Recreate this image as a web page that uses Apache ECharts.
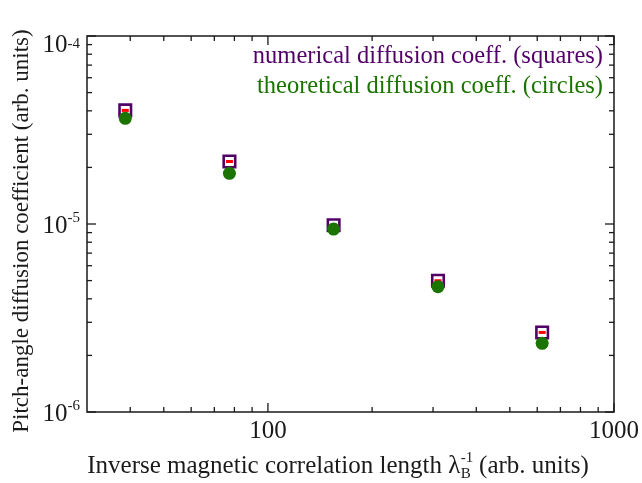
<!DOCTYPE html>
<html>
<head>
<meta charset="utf-8">
<script src="https://cdn.jsdelivr.net/npm/echarts@6/dist/echarts.min.js"></script>
<style>
  html, body { margin: 0; padding: 0; background: #fff; }
  #chart { width: 642px; height: 483px; }
</style>
</head>
<body>
<div id="chart"></div>
<script>
// Inverse magnetic correlation length (arb. units)
const inverseLength = [38.7, 77.4, 154.8, 310, 620];
// Pitch-angle diffusion coefficients (arb. units)
const numericalCoeff = [4.02e-5, 2.15e-5, 9.85e-6, 4.99e-6, 2.65e-6];
const theoreticalCoeff = [3.65e-5, 1.86e-5, 9.4e-6, 4.64e-6, 2.32e-6];

// Axis ranges and tick positions
const xRange = [30, 1000];
const yRange = [1e-6, 1e-4];
const xMajorTicks = [100, 1000];
const xMinorTicks = [40, 50, 60, 70, 80, 90, 200, 300, 400, 500, 600, 700, 800, 900];
const yMajorTicks = [1e-6, 1e-5, 1e-4];
const yMinorTicks = [2e-6, 3e-6, 4e-6, 5e-6, 6e-6, 7e-6, 8e-6, 9e-6,
                     2e-5, 3e-5, 4e-5, 5e-5, 6e-5, 7e-5, 8e-5, 9e-5];

const legendLines = ['numerical diffusion coeff. (squares)', 'theoretical diffusion coeff. (circles)'];
const xTitleParts = ['Inverse magnetic correlation length ', 'λ', 'B', '-1', ' (arb. units)'];
const yTitle = 'Pitch-angle diffusion coefficient (arb. units)';

const PURPLE = '#520068';
const GREEN = '#1b7300';
const RED = '#ff0000';
const INK = '#1a1a1a';
const FONT = '"Liberation Serif", "Times New Roman", serif';

function isPow10(v) {
  const e = Math.log10(v);
  return Math.abs(e - Math.round(e)) < 1e-6;
}

// Inward ticks on all four sides of the frame
function xTickRenderer(len) {
  return function (params, api) {
    const v = api.value(0);
    const b = api.coord([v, yRange[0]]);
    const t = api.coord([v, yRange[1]]);
    const st = { stroke: INK, lineWidth: 1.3 };
    return { type: 'group', children: [
      { type: 'line', shape: { x1: b[0], y1: b[1], x2: b[0], y2: b[1] - len }, style: st },
      { type: 'line', shape: { x1: t[0], y1: t[1], x2: t[0], y2: t[1] + len }, style: st }
    ]};
  };
}
function yTickRenderer(len) {
  return function (params, api) {
    const v = api.value(1);
    const l = api.coord([xRange[0], v]);
    const r = api.coord([xRange[1], v]);
    const st = { stroke: INK, lineWidth: 1.3 };
    return { type: 'group', children: [
      { type: 'line', shape: { x1: l[0], y1: l[1], x2: l[0] + len, y2: l[1] }, style: st },
      { type: 'line', shape: { x1: r[0], y1: r[1], x2: r[0] - len, y2: r[1] }, style: st }
    ]};
  };
}
function tickSeries(values, axis, len) {
  return {
    type: 'custom',
    silent: true,
    clip: false,
    z: 1,
    renderItem: axis === 'x' ? xTickRenderer(len) : yTickRenderer(len),
    data: values.map(v => axis === 'x' ? [v, yRange[0]] : [xRange[0], v])
  };
}

// X title with stacked subscript/superscript on lambda
const measureCtx = document.createElement('canvas').getContext('2d');
function textWidth(str, size) {
  measureCtx.font = size + 'px ' + FONT;
  return measureCtx.measureText(str).width;
}
const TITLE_SIZE = 25;
const SCRIPT_SIZE = 15;
const titleY = 466;
const titleCenterX = 338;
const w0 = textWidth(xTitleParts[0], TITLE_SIZE);
const w1 = textWidth(xTitleParts[1], TITLE_SIZE);
const wS = Math.max(textWidth(xTitleParts[2], SCRIPT_SIZE), textWidth(xTitleParts[3], SCRIPT_SIZE));
const w4 = textWidth(xTitleParts[4], TITLE_SIZE);
const startX = titleCenterX - (w0 + w1 + wS + w4) / 2;

function txt(str, x, y, size, color, align, vAlign, extra) {
  return Object.assign({
    type: 'text', x: x, y: y, silent: true,
    style: { text: str, fill: color, font: size + 'px ' + FONT, align: align, verticalAlign: vAlign }
  }, extra || {});
}

const graphics = [
  txt(xTitleParts[0], startX, titleY, TITLE_SIZE, INK, 'left', 'middle'),
  txt(xTitleParts[1], startX + w0, titleY, TITLE_SIZE, INK, 'left', 'middle'),
  txt(xTitleParts[2], startX + w0 + w1 + 0.5, titleY + 8, SCRIPT_SIZE, INK, 'left', 'middle'),
  txt(xTitleParts[3], startX + w0 + w1 + 0.5, titleY - 8, SCRIPT_SIZE, INK, 'left', 'middle'),
  txt(xTitleParts[4], startX + w0 + w1 + wS, titleY, TITLE_SIZE, INK, 'left', 'middle'),
  txt(yTitle, 22, 231, 23, INK, 'center', 'middle', { rotation: Math.PI / 2 }),
  txt(legendLines[0], 603, 57, 24.5, PURPLE, 'right', 'middle'),
  txt(legendLines[1], 603, 87, 24.5, GREEN, 'right', 'middle')
];

const chart = echarts.init(document.getElementById('chart'), null, { renderer: 'canvas' });
chart.setOption({
  animation: false,
  backgroundColor: '#fff',
  grid: {
    left: 87, right: 26, top: 36, bottom: 71,
    show: true, borderColor: INK, borderWidth: 1.5, backgroundColor: 'transparent'
  },
  xAxis: {
    type: 'log', logBase: 10, min: xRange[0], max: xRange[1],
    axisLine: { show: false }, axisTick: { show: false }, splitLine: { show: false },
    axisLabel: {
      margin: 7, color: INK, fontFamily: FONT, fontSize: 25,
      formatter: v => isPow10(v) ? String(Math.round(v)) : ''
    }
  },
  yAxis: {
    type: 'log', logBase: 10, min: yRange[0], max: yRange[1],
    axisLine: { show: false }, axisTick: { show: false }, splitLine: { show: false },
    axisLabel: {
      margin: 7, color: INK, fontFamily: FONT,
      formatter: v => {
        if (!isPow10(v)) return '';
        const e = Math.round(Math.log10(v));
        // the top label sits a little lower so its exponent lines up with the frame
        const top = Math.abs(v - yRange[1]) / yRange[1] < 1e-6;
        return top ? '{bt|10}{st|' + e + '}' : '{b|10}{s|' + e + '}';
      },
      rich: {
        b: { fontSize: 25, fontFamily: FONT, color: INK, lineHeight: 26, padding: [4, 0, 0, 0] },
        s: { fontSize: 15, fontFamily: FONT, color: INK, verticalAlign: 'top', lineHeight: 15 },
        bt: { fontSize: 25, fontFamily: FONT, color: INK, lineHeight: 26, padding: [18, 0, 0, 0] },
        st: { fontSize: 15, fontFamily: FONT, color: INK, verticalAlign: 'top', lineHeight: 15, padding: [14, 0, 0, 0] }
      }
    }
  },
  graphic: graphics,
  series: [
    tickSeries(xMajorTicks, 'x', 9),
    tickSeries(xMinorTicks, 'x', 5),
    tickSeries(yMajorTicks, 'y', 9),
    tickSeries(yMinorTicks, 'y', 5),
    {
      name: 'numerical', type: 'scatter', symbol: 'rect', symbolSize: 11.5,
      itemStyle: { color: '#fff', borderColor: PURPLE, borderWidth: 2.6, opacity: 1 },
      emphasis: { disabled: true },
      data: inverseLength.map((x, i) => [x, numericalCoeff[i]])
    },
    {
      name: 'numerical mean', type: 'scatter', symbol: 'rect', symbolSize: [7, 3],
      itemStyle: { color: RED, opacity: 1 },
      emphasis: { disabled: true },
      data: inverseLength.map((x, i) => [x, numericalCoeff[i]])
    },
    {
      name: 'theoretical', type: 'scatter', symbol: 'circle', symbolSize: 13,
      itemStyle: { color: GREEN, opacity: 1 },
      emphasis: { disabled: true },
      data: inverseLength.map((x, i) => [x, theoreticalCoeff[i]])
    }
  ]
});
</script>
</body>
</html>
